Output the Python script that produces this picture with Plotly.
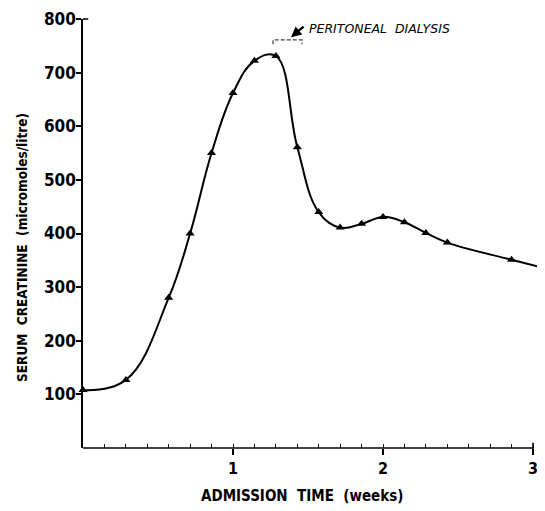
import plotly.graph_objects as go

# data (weeks since admission, serum creatinine micromoles/litre)
weeks = [0.0, 0.286, 0.571, 0.714, 0.857, 1.0, 1.143, 1.286, 1.429, 1.571,
         1.714, 1.857, 2.0, 2.143, 2.286, 2.429, 2.857]
creatinine = [108, 127, 280, 400, 550, 662, 722, 731, 561, 440,
              411, 418, 431, 421, 401, 383, 351]
tail_week = [3.1]
tail_value = [334]

x_ticks = [1, 2, 3]
y_ticks = [100, 200, 300, 400, 500, 600, 700, 800]

dialysis_start, dialysis_end = 1.267, 1.46

FONT = "DejaVu Sans Condensed, Liberation Sans Narrow, sans-serif"
OFF = 8  # page body margin offset
W, H = 545 - OFF, 511 - OFF
L, R, T, B = 83 - OFF, 0, 19 - OFF, 63


def px_x(px):  # page px -> paper x
    return (px - OFF - L) / (W - L - R)


def px_y(py):  # page px -> paper y
    return (H - B - (py - OFF)) / (H - T - B)


fig = go.Figure()
fig.add_trace(go.Scatter(
    x=weeks + tail_week, y=creatinine + tail_value, mode="lines",
    line=dict(color="black", width=2, shape="spline", smoothing=1.15),
    hoverinfo="skip", showlegend=False))
fig.add_trace(go.Scatter(
    x=weeks, y=creatinine, mode="markers",
    marker=dict(symbol="triangle-up", size=8, color="black"),
    showlegend=False, cliponaxis=False))
# invisible trace for minor-tick axis
fig.add_trace(go.Scatter(x=[0], y=[0], xaxis="x2", mode="markers",
                         marker=dict(opacity=0), hoverinfo="skip", showlegend=False))

# x axis line only from 0 to 3
fig.add_shape(type="line", x0=0, x1=3, y0=0, y1=0, xref="x", yref="paper",
              line=dict(color="black", width=1.5))
fig.add_shape(type="line", x0=3, x1=3, y0=-0.012, y1=0.012, xref="x", yref="paper",
              line=dict(color="black", width=1.5))
# y-axis top stub
fig.add_shape(type="line", x0=0, x1=0.035, y0=1, y1=1, xref="x", yref="paper",
              line=dict(color="black", width=1.5))
# dialysis bracket
fig.add_shape(type="path",
              path=f"M {dialysis_start},753 L {dialysis_start},761 L {dialysis_end},761 L {dialysis_end},753",
              xref="x", yref="y", line=dict(color="#444444", width=1.2, dash="4px,2px"))

fig.add_annotation(x=1.387, y=766, ax=14, ay=-12, xref="x", yref="y",
                   text="", showarrow=True,
                   arrowhead=2, arrowsize=0.9, arrowwidth=2.3, arrowcolor="black")
fig.add_annotation(x=px_x(307), y=px_y(29), xref="paper", yref="paper",
                   text="<i>PERITONEAL  DIALYSIS</i>",
                   showarrow=False, xanchor="left", yanchor="middle",
                   font=dict(family="DejaVu Sans", size=12.5, color="black"))

fig.add_annotation(x=px_x(302), y=px_y(496), xref="paper", yref="paper",
                   text="<b>ADMISSION&nbsp;&nbsp;TIME&nbsp;&nbsp;(weeks)</b>",
                   showarrow=False, xanchor="center", yanchor="middle",
                   font=dict(family=FONT, size=15, color="black"))
fig.add_annotation(x=px_x(22), y=px_y(248), xref="paper", yref="paper",
                   text="<b>SERUM&nbsp;&nbsp;CREATININE&nbsp;&nbsp;(micromoles/litre)</b>",
                   showarrow=False, xanchor="center", yanchor="middle", textangle=-90,
                   font=dict(family=FONT, size=13.5, color="black"))

fig.update_layout(
    width=W, height=H,
    margin=dict(l=L, r=R, t=T, b=B),
    paper_bgcolor="white", plot_bgcolor="white",
    font=dict(family=FONT, color="black"),
    xaxis=dict(range=[0, 3.08], tickvals=x_ticks,
               ticktext=[f"<b>{v}</b>" for v in x_ticks],
               showline=False, showgrid=False, zeroline=False,
               ticks="outside", ticklen=6, tickwidth=1.5, tickcolor="black",
               tickfont=dict(size=16, family=FONT)),
    xaxis2=dict(range=[0, 3.08], overlaying="x", anchor="y", side="bottom",
                tickmode="linear", tick0=0, dtick=1/7,
                ticks="inside", ticklen=4, tickwidth=1.2, tickcolor="black",
                showticklabels=False, showline=False, showgrid=False, zeroline=False),
    yaxis=dict(range=[0, 800], tickvals=y_ticks,
               ticktext=[f"<b>{v}</b>" for v in y_ticks],
               showline=True, linecolor="black",
               linewidth=1.5, showgrid=False, zeroline=False,
               ticks="outside", ticklen=5, tickwidth=1.5, tickcolor="black",
               ticklabelstandoff=-3,
               tickfont=dict(size=17, family=FONT)),
)

fig.write_html("out.html")
